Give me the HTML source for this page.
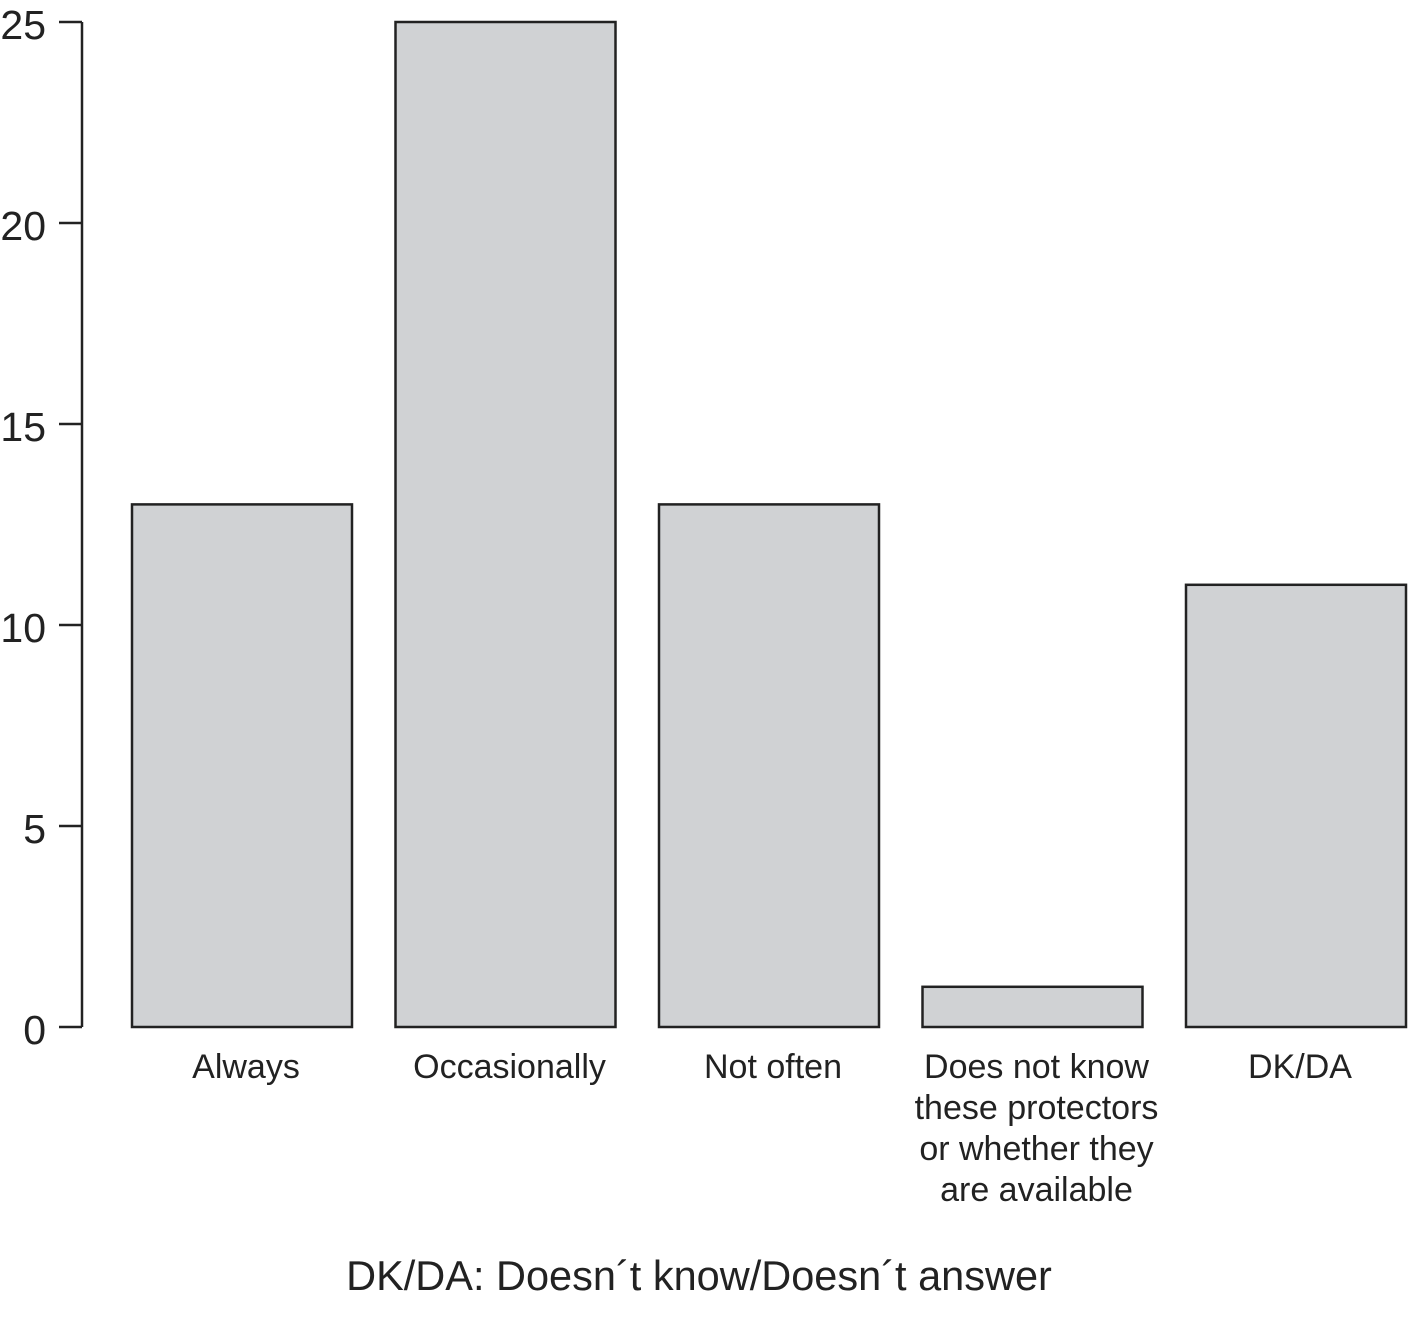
<!DOCTYPE html>
<html><head><meta charset="utf-8"><style>
html,body{margin:0;padding:0;background:#fff;}
svg{display:block;font-family:"Liberation Sans",Arial,sans-serif;}
</style></head><body>
<svg id="chart" width="1412" height="1327" viewBox="0 0 1412 1327" xmlns="http://www.w3.org/2000/svg">
<g id="axis"></g><g id="bars"></g><g id="labels"></g>
<text x="699" y="1290" font-size="41.5" text-anchor="middle" fill="#222">DK/DA: Doesn´t know/Doesn´t answer</text>
</svg>
<script>
const categories = [["Always"],["Occasionally"],["Not often"],["Does not know","these protectors","or whether they"," are available"],["DK/DA"]];
const values = [13,25,13,1,11];
const ticks = [0,5,10,15,20,25];
const NS="http://www.w3.org/2000/svg";
const y0=1027, y1=22, vmax=25;
function yScale(v){return y0-(y0-y1)*v/vmax;}
const barLeft=132, barStep=263.5, barW=220;
function xScale(i){return barLeft+i*barStep;}
function mk(tag,attrs,parent){const e=document.createElementNS(NS,tag);for(const k in attrs)e.setAttribute(k,attrs[k]);document.getElementById(parent).appendChild(e);return e;}
const ax=mk('line',{x1:82,x2:82,y1:yScale(0),y2:yScale(vmax),stroke:'#222','stroke-width':2.5},'axis');


ticks.forEach(t=>{
  const l=mk('line',{x1:59,x2:82,y1:yScale(t),y2:yScale(t),stroke:'#222','stroke-width':2.5},'axis');
  
  
  const tx=mk('text',{x:46,y:yScale(t)+17,'font-size':41,'text-anchor':'end',fill:'#222'},'axis');
  tx.textContent=t;
  
  
});
values.forEach((v,i)=>{
  const r=mk('rect',{x:xScale(i),y:yScale(v),width:barW,height:yScale(0)-yScale(v),fill:'#d0d2d4',stroke:'#222','stroke-width':2.5},'bars');
  
  
  categories[i].forEach((line,j)=>{
    const t=mk('text',{x:xScale(i)+barW/2+4,y:1078+j*41,'font-size':34,'text-anchor':'middle',fill:'#222','xml:space':'preserve'},'labels');
    t.textContent=line;
    
    
  });
});
</script>
</body></html>
